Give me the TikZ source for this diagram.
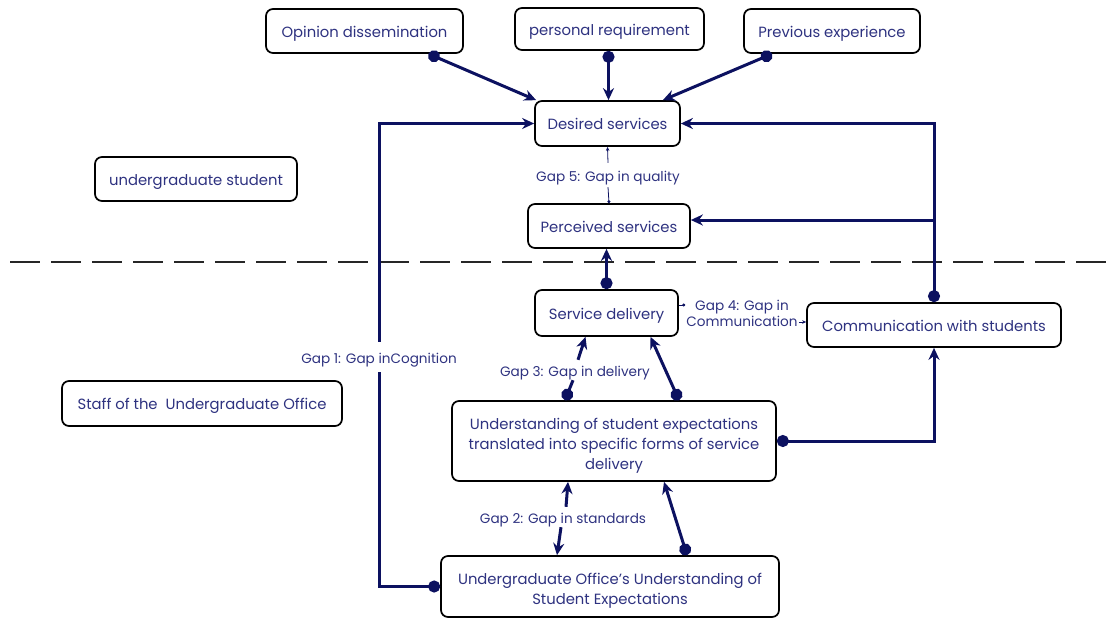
\documentclass[tikz,border=0pt]{standalone}
\usepackage{fontspec}
\setmainfont{Poppins}
\usepackage{xcolor}
\usetikzlibrary{calc}
\usetikzlibrary{positioning,arrows.meta}
\definecolor{navy}{HTML}{0C1160}
\definecolor{navytext}{HTML}{2E3280}
\tikzset{
  box/.style={draw=black, line width=1.7pt, rounded corners=7pt, fill=white,
    text=navytext, align=center, font=\fontsize{14.8}{20}\selectfont},
  oneline/.style={text height=13pt, text depth=1pt},
  gaplbl/.style={text=navytext, align=center, inner sep=3pt,
    font=\fontsize{13.6}{16}\selectfont},
  flow/.style={draw=navy, line width=3pt, -{Stealth[length=12pt,width=11pt]}},
  dotflow/.style={draw=navy, line width=3pt,
    {Circle[length=12pt]}-{Stealth[length=12pt,width=11pt]}},
  dotline/.style={draw=navy, line width=3pt, {Circle[length=12pt]}-},
  thinflow/.style={draw=navy, line width=0.8pt, -{Stealth[length=4pt,width=3.5pt]}},
  thindot/.style={draw=navy, line width=0.8pt, {Circle[length=3pt]}-},
  dashline/.style={draw=black!85, line width=2.6pt, dash pattern=on 30pt off 11pt}
}

\begin{document}
\begin{tikzpicture}[x=1pt,y=-1pt]
    \useasboundingbox (0,0) rectangle (1116,619);

    \draw[dashline] (10,262) -- (1116,262);

    \node[box, oneline, minimum width=197pt, minimum height=44pt] (op) at (364.5,31) {Opinion dissemination};
    \node[box, oneline, minimum width=189pt, minimum height=42pt] (pr) at (609.5,29) {personal requirement};
    \node[box, oneline, minimum width=176pt, minimum height=44pt] (pe) at (832,31) {Previous experience};
    \node[box, oneline, minimum width=145pt, minimum height=45pt] (ds) at (607.5,123.5) {Desired services};
    \node[box, oneline, minimum width=202pt, minimum height=44pt] (ug) at (196,179) {undergraduate student};
    \node[box, oneline, minimum width=162pt, minimum height=44pt] (ps) at (609,226) {Perceived services};
    \node[box, oneline, minimum width=143pt, minimum height=46pt] (sd) at (606.5,313) {Service delivery};
    \node[box, oneline, minimum width=254pt, minimum height=44pt] (cm) at (934,325) {Communication with students};
    \node[box, oneline, minimum width=280pt, minimum height=45pt] (so) at (202,403.5) {Staff of the\ \ Undergraduate Office};
    \node[box, text depth=0pt, minimum width=324pt, minimum height=80pt] (und) at (614,441)
        {\rule{0pt}{16pt}Understanding of student expectations\\translated into specific forms of service\\delivery};
    \node[box, text depth=0pt, minimum width=338pt, minimum height=61pt] (off) at (610,586.5)
        {\rule{0pt}{16pt}Undergraduate Office's Understanding of\\Student Expectations};

    \node[gaplbl, oneline, inner sep=8pt] (g1) at (379,357) {Gap 1: Gap inCognition};
    \node[gaplbl, oneline] (g2) at (563,517) {Gap 2: Gap in standards};
    \node[gaplbl, oneline] (g3) at (575,370) {Gap 3: Gap in delivery};
    \node[gaplbl, inner sep=1pt] (g4) at (742,313) {Gap 4: Gap in\\Communication};
    \node[gaplbl, oneline, inner sep=5pt] (g5) at (608,175) {Gap 5: Gap in quality};

    \coordinate (prout) at ($(pr.south)+(-1,0)$);
    \draw[dotflow] ($(op.south)+(64,0)$) -- ($(ds.north west)+(2,0)$);
    \draw[dotflow] (prout) -- (prout |- ds.north);
    \draw[dotflow] ($(pe.south)+(-60,0)$) -- ($(ds.north east)+(-18,0)$);

    \draw[dotline] (off.west) -| (g1.south);
    \draw[flow] (g1.north) |- (ds.west);

    \draw[dotflow] (cm.north) |- (ds.east);
    \coordinate (psin) at ($(ps.east)+(0,-6)$);
    \draw[flow] (cm.north |- psin) -- (psin);

    \draw[thindot] (ps.north) -- (g5.south);
    \draw[thinflow] (g5.north) -- (ds.south);

    \draw[dotflow] (sd.north) -- (sd.north |- ps.south);

    \coordinate (g4l) at ($(g4.west)+(0,-8)$);
    \coordinate (g4r) at ($(g4.east)+(0,9)$);
    \draw[thindot] (g4l) -- (g4l -| sd.east);
    \draw[thinflow] (g4r) -- (g4r -| cm.west);

    \draw[dotline] ($(und.north)+(-49,0)$) -- ($(g3.south)+(-2,0)$);
    \draw[flow] ($(g3.north)+(3,0)$) -- ($(sd.south)+(-21,0)$);
    \draw[dotflow] ($(und.north)+(65,0)$) -- ($(sd.south)+(44,0)$);

    \draw[dotflow] (und.east) -| (cm.south);

    \draw[flow] ($(g2.north)+(3,0)$) -- ($(und.south)+(-46,0)$);
    \draw[flow] ($(g2.south)+(-2,0)$) -- ($(off.north)+(-53,0)$);
    \draw[dotflow] ($(off.north)+(77,0)$) -- ($(und.south)+(50,0)$);
\end{tikzpicture}
\end{document}
